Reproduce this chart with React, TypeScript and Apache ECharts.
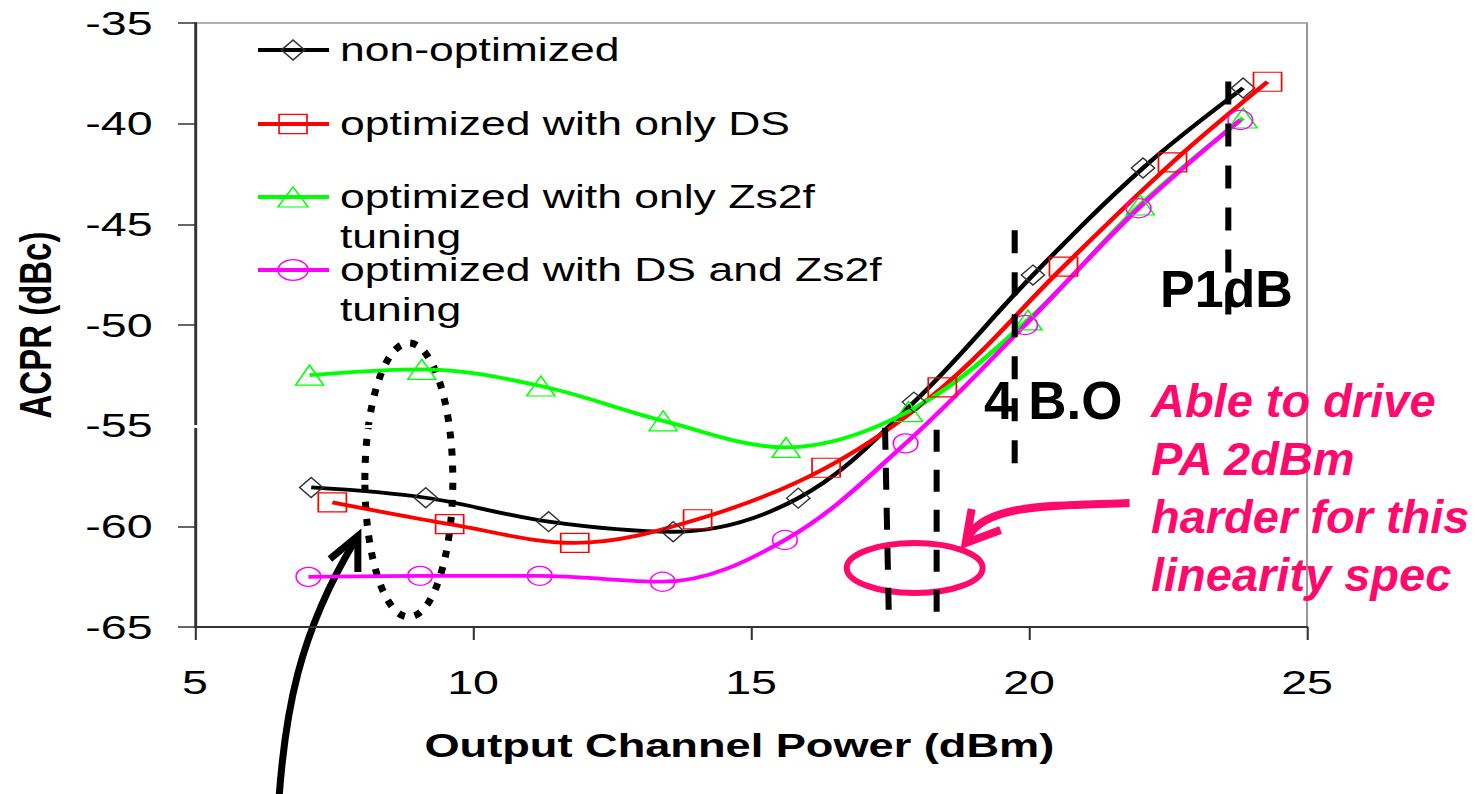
import React, { useEffect, useRef } from "react";
import * as echarts from "echarts";

// Page and chart geometry: the Excel-style chart is drawn narrow and stretched horizontally.
const PAGE_W = 1483;
const PAGE_H = 794;
const INNER_W = 1083;
const S = PAGE_W / INNER_W;

const FONT = '"Liberation Sans", Arial, sans-serif';

// ACPR vs output channel power (dBm, dBc)
const xNonOpt = [7.09, 9.15, 11.36, 13.6, 15.85, 17.93, 20.07, 22.05, 23.85];
const yNonOpt = [-58.07, -58.58, -59.77, -60.27, -58.6, -53.83, -47.52, -42.2, -38.23];

const xDS = [7.47, 9.58, 11.83, 14.04, 16.35, 18.44, 20.62, 22.58, 24.29];
const yDS = [-58.81, -59.89, -60.82, -59.65, -57.09, -53.1, -47.1, -41.92, -37.92];

const xZs2f = [7.06, 9.08, 11.22, 13.42, 15.63, 17.83, 19.98, 22.0, 23.85];
const yZs2f = [-52.49, -52.2, -53.03, -54.76, -56.08, -54.3, -49.75, -44.04, -39.72];

const xBoth = [7.04, 9.05, 11.2, 13.41, 15.61, 17.78, 19.93, 21.97, 23.8];
const yBoth = [-62.51, -62.46, -62.46, -62.75, -60.68, -55.88, -50.0, -44.2, -39.82];

const seriesNames = [
  "non-optimized",
  "optimized with only DS",
  "optimized with only Zs2f tuning",
  "optimized with DS and Zs2f tuning",
];
const legendLines = [
  ["non-optimized"],
  ["optimized with only DS"],
  ["optimized with only Zs2f", "tuning"],
  ["optimized with DS and Zs2f", "tuning"],
];

// Reference levels marked on the plot (x in dBm, y span in dBc)
const p1dbLine = { x: 23.58, y1: -37.9, y2: -49.5 };
const backoffLine = { x: 19.73, y1: -45.3, y2: -56.9 };
const specLineA = { x1: 17.41, y1: -55.1, x2: 17.48, y2: -64.65 };
const specLineB = { x1: 18.33, y1: -55.2, x2: 18.33, y2: -64.8 };

const xTicks = { min: 5, max: 25, interval: 5 };
const yTicks = { min: -65, max: -35, interval: 5 };

const noteLines = ["Able to drive", "PA 2dBm", "harder for this", "linearity spec"];

const LINE_W = 3.8;

const pair = (xs: number[], ys: number[]) => xs.map((x, i) => [x, ys[i]]);

function lineSeries(
  name: string,
  data: number[][],
  color: string,
  symbol: string,
  symbolSize: number[],
  border: string,
  extra: any = {}
) {
  return {
    type: "line",
    name,
    data,
    smooth: 0.35,
    symbol,
    symbolSize,
    showSymbol: true,
    lineStyle: { color, width: LINE_W },
    itemStyle: { color: "rgba(0,0,0,0)", borderColor: border, borderWidth: 1.2 },
    emphasis: { disabled: true },
    silent: true,
    ...extra,
  };
}

function legendGraphic() {
  const rows = [
    { y: 50, color: "#000000", border: "#333333", kind: "diamond" },
    { y: 124, color: "#FF0000", border: "#FF0000", kind: "rect" },
    { y: 197, color: "#00FF00", border: "#00FF00", kind: "triangle" },
    { y: 270, color: "#FF00FF", border: "#FF00FF", kind: "circle" },
  ];
  const lx1 = 188.4;
  const lx2 = 240.3;
  const mx = 214;
  const tx = 248.3;
  const out: any[] = [];
  rows.forEach((r, i) => {
    out.push({
      type: "line",
      shape: { x1: lx1, y1: r.y, x2: lx2, y2: r.y },
      style: { stroke: r.color, lineWidth: LINE_W },
    });
    const st = { fill: "none", stroke: r.border, lineWidth: 1.2 };
    if (r.kind === "diamond") {
      out.push({
        type: "polygon",
        shape: { points: [[mx - 8.5, r.y], [mx, r.y - 10], [mx + 8.5, r.y], [mx, r.y + 10]] },
        style: st,
      });
    } else if (r.kind === "rect") {
      out.push({ type: "rect", shape: { x: mx - 10.2, y: r.y - 9.7, width: 20.4, height: 19.4 }, style: st });
    } else if (r.kind === "triangle") {
      out.push({
        type: "polygon",
        shape: { points: [[mx, r.y - 10], [mx + 11, r.y + 10], [mx - 11, r.y + 10]] },
        style: st,
      });
    } else {
      out.push({ type: "ellipse", shape: { cx: mx, cy: r.y, rx: 11, ry: 10.3 }, style: st });
    }
    legendLines[i].forEach((t, k) => {
      out.push({
        type: "text",
        x: tx,
        y: r.y + k * 40,
        style: {
          text: t,
          fill: "#000",
          fontSize: 32.5,
          fontFamily: FONT,
          align: "left",
          verticalAlign: "middle",
        },
      });
    });
  });
  return { type: "group", children: out };
}

// Callouts in page pixels, undone from the horizontal stretch.
function calloutGraphic() {
  const pink = "#FF0A6C";
  const children: any[] = [
    // thin white seam across the plot at -55 dBc
    {
      type: "line",
      shape: { x1: 176, y1: 426.5, x2: 936, y2: 426.5 },
      style: { stroke: "#ffffff", lineWidth: 3 },
      z: 1,
    },
    {
      type: "ellipse",
      shape: { cx: 409, cy: 480, rx: 44, ry: 137 },
      style: { fill: "none", stroke: "#000", lineWidth: 7, lineDash: [7, 10] },
    },
    {
      type: "bezierCurve",
      shape: { x1: 279, y1: 800, cpx1: 285, cpy1: 715, cpx2: 298, cpy2: 635, x2: 355, y2: 541 },
      style: { fill: "none", stroke: "#000", lineWidth: 7 },
    },
    {
      type: "polyline",
      shape: { points: [[330, 559], [358, 536], [358, 572]] },
      style: { fill: "none", stroke: "#000", lineWidth: 7, lineJoin: "miter" },
    },
    {
      type: "ellipse",
      shape: { cx: 915, cy: 568, rx: 68, ry: 25 },
      style: { fill: "none", stroke: pink, lineWidth: 6 },
    },
    {
      type: "bezierCurve",
      shape: { x1: 1130, y1: 503, cpx1: 1055, cpy1: 506, cpx2: 985, cpy2: 503, x2: 968, y2: 538 },
      style: { fill: "none", stroke: pink, lineWidth: 8 },
    },
    {
      type: "polyline",
      shape: { points: [[972, 509], [966, 543], [1001, 530]] },
      style: { fill: "none", stroke: pink, lineWidth: 8, lineJoin: "miter" },
    },
    {
      type: "text",
      x: 984,
      y: 400,
      style: { text: "4 B.O", fill: "#000", fontSize: 53, fontWeight: "bold", fontFamily: FONT, verticalAlign: "middle" },
    },
    {
      type: "text",
      x: 1160,
      y: 289,
      style: { text: "P1dB", fill: "#000", fontSize: 52, fontWeight: "bold", fontFamily: FONT, verticalAlign: "middle" },
    },
  ];
  noteLines.forEach((t, i) => {
    children.push({
      type: "text",
      x: 1151,
      y: 400 + i * 58,
      style: {
        text: t,
        fill: pink,
        fontSize: 47,
        fontWeight: "bold",
        fontStyle: "italic",
        fontFamily: FONT,
        verticalAlign: "middle",
      },
    });
  });
  return { type: "group", scaleX: 1 / S, z: 100, children };
}

export default function App() {
  const ref = useRef<HTMLDivElement>(null);

  useEffect(() => {
    if (!ref.current) return;
    const chart = echarts.init(ref.current, null, { renderer: "svg" });

    const dashed = (x1: number, y1: number, x2: number, y2: number, dash: number[]) => [
      { coord: [x1, y1], lineStyle: { type: dash } },
      { coord: [x2, y2] },
    ];

    chart.setOption({
      animation: false,
      backgroundColor: "#ffffff",
      grid: {
        left: 142.4,
        right: 128.5,
        top: 23,
        bottom: 167,
        show: true,
        borderColor: "#9a9a9a",
        borderWidth: 1.5,
        backgroundColor: "transparent",
      },
      xAxis: {
        type: "value",
        min: xTicks.min,
        max: xTicks.max,
        interval: xTicks.interval,
        name: "Output Channel Power (dBm)",
        nameLocation: "middle",
        nameGap: 102,
        nameTextStyle: {
          fontSize: 33,
          fontWeight: "bold",
          color: "#000",
          fontFamily: FONT,
          padding: [0, 17, 0, 0],
        },
        axisLine: { show: true, onZero: false, lineStyle: { color: "#333", width: 2 } },
        axisTick: { show: true, inside: false, length: 13, lineStyle: { color: "#333", width: 1.5 } },
        axisLabel: { fontSize: 34, color: "#000", fontFamily: FONT, margin: 38 },
        splitLine: { show: false },
      },
      yAxis: {
        type: "value",
        min: yTicks.min,
        max: yTicks.max,
        interval: yTicks.interval,
        name: "ACPR (dBc)",
        nameLocation: "middle",
        nameGap: 100,
        nameRotate: 90,
        nameTextStyle: {
          fontSize: 33,
          fontWeight: "bold",
          color: "#000",
          fontFamily: FONT,
        },
        axisLine: { show: true, onZero: false, lineStyle: { color: "#333", width: 2 } },
        axisTick: { show: true, inside: false, length: 12.4, lineStyle: { color: "#333", width: 1.5 } },
        axisLabel: { fontSize: 34, color: "#000", fontFamily: FONT, margin: 31 },
        splitLine: { show: false },
      },
      series: [
        lineSeries(seriesNames[0], pair(xNonOpt, yNonOpt), "#000000", "diamond", [17, 20], "#333333", {
          markLine: {
            silent: true,
            symbol: ["none", "none"],
            label: { show: false },
            emphasis: { disabled: true },
            lineStyle: { color: "#000", width: 4.4, type: [22, 18] },
            data: [
              dashed(p1dbLine.x, p1dbLine.y1, p1dbLine.x, p1dbLine.y2, [23, 19]),
              dashed(backoffLine.x, backoffLine.y1, backoffLine.x, backoffLine.y2, [23, 19]),
              dashed(specLineA.x1, specLineA.y1, specLineA.x2, specLineA.y2, [22, 18]),
              dashed(specLineB.x1, specLineB.y1, specLineB.x2, specLineB.y2, [22, 18]),
            ],
          },
        }),
        lineSeries(seriesNames[1], pair(xDS, yDS), "#FF0000", "rect", [20.5, 19], "#FF0000"),
        lineSeries(seriesNames[2], pair(xZs2f, yZs2f), "#00FF00", "triangle", [20.5, 20], "#00FF00"),
        lineSeries(seriesNames[3], pair(xBoth, yBoth), "#FF00FF", "circle", [18, 19], "#FF00FF"),
      ],
      graphic: [legendGraphic(), calloutGraphic()],
    });

    return () => chart.dispose();
  }, []);

  return (
    <div
      style={{
        position: "fixed",
        left: 0,
        top: 0,
        width: PAGE_W,
        height: PAGE_H,
        overflow: "hidden",
        background: "#ffffff",
      }}
    >
      <div
        ref={ref}
        style={{
          width: INNER_W,
          height: PAGE_H,
          transform: `scaleX(${S})`,
          transformOrigin: "0 0",
        }}
      />
    </div>
  );
}
